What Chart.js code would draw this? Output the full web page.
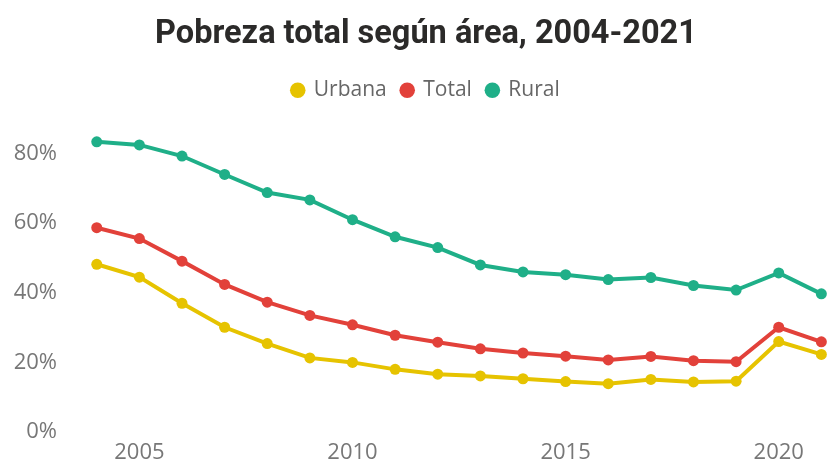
<!DOCTYPE html>
<html>
<head>
<meta charset="utf-8">
<script src="https://cdn.jsdelivr.net/npm/chart.js@4/dist/chart.umd.min.js"></script>
<style>
  html, body { margin: 0; padding: 0; background: #ffffff; }
  #c { display: block; }
</style>
</head>
<body>
<canvas id="c" width="839" height="463"></canvas>
<script>
const years   = [2004, 2005, 2006, 2007, 2008, 2009, 2010, 2011, 2012, 2013, 2014, 2015, 2016, 2017, 2018, 2019, 2020, 2021];
const urbana  = [48.2, 44.5, 37.0, 30.1, 25.4, 21.3, 20.0, 18.0, 16.6, 16.1, 15.3, 14.5, 13.9, 15.1, 14.4, 14.6, 26.0, 22.3];
const total   = [58.7, 55.6, 49.1, 42.4, 37.3, 33.5, 30.8, 27.8, 25.8, 23.9, 22.7, 21.8, 20.7, 21.7, 20.5, 20.2, 30.1, 25.9];
const rural   = [83.4, 82.5, 79.3, 74.0, 68.8, 66.7, 61.0, 56.1, 53.0, 48.0, 46.0, 45.2, 43.8, 44.4, 42.1, 40.8, 45.7, 39.7];
const seriesNames = ['Urbana', 'Total', 'Rural'];
const xTickYears = [2005, 2010, 2015, 2020];
const yTickValues = [0, 20, 40, 60, 80];
const titleText = 'Pobreza total según área, 2004-2021';

const colors = ['#E6C300', '#E2413A', '#1FAF88'];
const seriesValues = [urbana, total, rural];

const datasets = seriesNames.map((name, i) => ({
  label: name,
  data: years.map((y, j) => ({ x: y, y: seriesValues[i][j] })),
  borderColor: colors[i],
  backgroundColor: colors[i],
  pointBackgroundColor: colors[i],
  pointBorderColor: colors[i],
  borderWidth: 4,
  pointRadius: 5.5,
  pointBorderWidth: 0,
  tension: 0,
  clip: false
}));

new Chart(document.getElementById('c'), {
  type: 'line',
  data: { datasets },
  options: {
    responsive: false,
    animation: false,
    devicePixelRatio: 1,
    layout: { padding: { left: 13, right: 0, top: 0, bottom: 0 } },
    plugins: {
      title: {
        display: true,
        text: titleText,
        color: '#2b2a29',
        font: { family: 'Roboto', weight: 'bold', size: 32.5, lineHeight: 1.2 },
        padding: { top: 15.5, bottom: 10.3 }
      },
      legend: {
        display: true,
        position: 'top',
        labels: {
          usePointStyle: true,
          pointStyle: 'circle',
          boxWidth: 11,
          boxHeight: 11,
          padding: 15,
          color: '#666666',
          font: { family: 'Open Sans', size: 21 },
          generateLabels: (chart) => {
            const items = Chart.defaults.plugins.legend.labels.generateLabels(chart);
            items.forEach(it => { it.lineWidth = 0; });
            return items;
          }
        }
      },
      tooltip: { enabled: false }
    },
    scales: {
      x: {
        type: 'linear',
        min: 2003.255,
        max: 2021.285,
        grid: { display: false, drawTicks: false },
        border: { display: false },
        afterBuildTicks: (axis) => { axis.ticks = xTickYears.map(v => ({ value: v })); },
        afterFit: (axis) => { axis.height = 31; },
        ticks: {
          color: '#777777',
          font: { family: 'Open Sans', size: 22, lineHeight: 1 },
          padding: 10,
          maxRotation: 0,
          callback: (v) => String(v)
        }
      },
      y: {
        type: 'linear',
        min: 0,
        max: 92.3,
        grid: { display: false, drawTicks: false },
        border: { display: false },
        afterBuildTicks: (axis) => { axis.ticks = yTickValues.map(v => ({ value: v })); },
        afterFit: (axis) => { axis.width = 52; },
        ticks: {
          color: '#777777',
          font: { family: 'Open Sans', size: 22 },
          padding: 8,
          callback: (v) => v + '%'
        }
      }
    }
  }
});
</script>
</body>
</html>
